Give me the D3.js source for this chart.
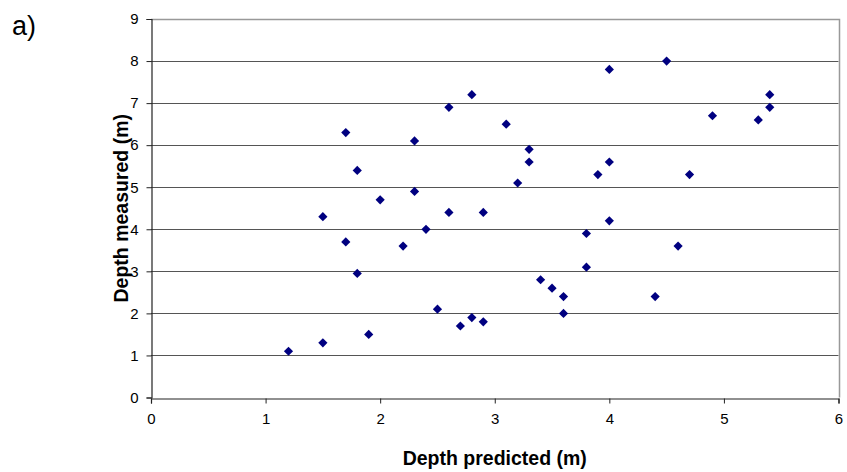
<!DOCTYPE html>
<html>
<head>
<script src="https://cdn.jsdelivr.net/npm/d3@7"></script>
<style>
  body { margin: 0; background: #fff; font-family: "Liberation Sans", Arial, sans-serif; }
</style>
</head>
<body>
<svg id="chart"></svg>
<script>
// depth predicted (x) and depth measured (y)
const predicted = [1.2, 1.5, 1.5, 1.7, 1.7, 1.8, 1.8, 1.9, 2.0, 2.2, 2.3, 2.3, 2.4, 2.5, 2.6, 2.6, 2.7, 2.8, 2.8, 2.9, 2.9,
                   3.1, 3.2, 3.3, 3.3, 3.4, 3.5, 3.6, 3.6, 3.8, 3.8, 3.9, 4.0, 4.0, 4.0, 4.4, 4.5, 4.6, 4.7, 4.9, 5.3, 5.4, 5.4];
const measured  = [1.1, 1.3, 4.3, 6.3, 3.7, 5.4, 2.95, 1.5, 4.7, 3.6, 6.1, 4.9, 4.0, 2.1, 6.9, 4.4, 1.7, 7.2, 1.9, 4.4, 1.8,
                   6.5, 5.1, 5.9, 5.6, 2.8, 2.6, 2.4, 2.0, 3.9, 3.1, 5.3, 7.8, 5.6, 4.2, 2.4, 8.0, 3.6, 5.3, 6.7, 6.6, 7.2, 6.9];
const xTicks = [0, 1, 2, 3, 4, 5, 6];
const yTicks = [0, 1, 2, 3, 4, 5, 6, 7, 8, 9];

const width = 847, height = 472;
const margin = { top: 19, right: 8, bottom: 75, left: 151 };

const svg = d3.select("#chart").attr("width", width).attr("height", height)
  .attr("font-family", "Liberation Sans, Arial, sans-serif");

const x = d3.scaleLinear().domain([0, 6]).range([margin.left, 838.5]);
const y = d3.scaleLinear().domain([0, 9]).range([397.5, margin.top]);

// gridlines
svg.append("g")
  .selectAll("line")
  .data(yTicks.filter(d => d > 0 && d < 9))
  .enter()
  .append("line")
  .attr("x1", x(0)).attr("x2", x(6))
  .attr("y1", d => Math.round(y(d)) + 0.5).attr("y2", d => Math.round(y(d)) + 0.5)
  .attr("stroke", "#555").attr("stroke-width", 1);

// plot frame: grey top and right
svg.append("path")
  .attr("d", `M${x(0)},${Math.round(y(9)) + 0.5} H${Math.round(x(6)) + 0.5} V${y(0)}`)
  .attr("fill", "none").attr("stroke", "#999").attr("stroke-width", 1.5);

const xAxis = svg.append("g")
  .attr("transform", `translate(0,${Math.round(y(0)) + 0.5})`)
  .call(d3.axisBottom(x).tickValues(xTicks).tickSize(5).tickPadding(10).tickFormat(d3.format("d")));
const yAxis = svg.append("g")
  .attr("transform", `translate(${Math.round(x(0)) + 0.5},0)`)
  .call(d3.axisLeft(y).tickValues(yTicks).tickSize(5).tickPadding(8).tickFormat(d3.format("d")));

[xAxis, yAxis].forEach(g => {
  g.attr("font-family", "Liberation Sans, Arial, sans-serif").attr("font-size", 15);
  g.select(".domain").attr("stroke", "#222").attr("stroke-width", 1.2);
  g.selectAll(".tick line").attr("stroke", "#222");
  g.selectAll(".tick text").attr("fill", "#000");
});

// diamond markers
const pts = predicted.map((p, i) => ({ p: p, m: measured[i] }));
svg.append("g")
  .selectAll("path")
  .data(pts)
  .enter()
  .append("path")
  .attr("transform", d => `translate(${x(d.p)},${y(d.m)})`)
  .attr("d", "M0,-4.6 L4.6,0 L0,4.6 L-4.6,0 Z")
  .attr("fill", "#000080");

// axis titles
svg.append("text")
  .attr("x", (x(0) + x(6)) / 2).attr("y", 465)
  .attr("text-anchor", "middle")
  .attr("font-size", 19.5).attr("font-weight", "bold")
  .text("Depth predicted (m)");

svg.append("text")
  .attr("transform", `translate(128,${(y(0) + y(9)) / 2}) rotate(-90)`)
  .attr("text-anchor", "middle")
  .attr("font-size", 19.5).attr("font-weight", "bold")
  .text("Depth measured (m)");

svg.append("text")
  .attr("x", 12).attr("y", 35)
  .attr("font-size", 27)
  .text("a)");
</script>
</body>
</html>
